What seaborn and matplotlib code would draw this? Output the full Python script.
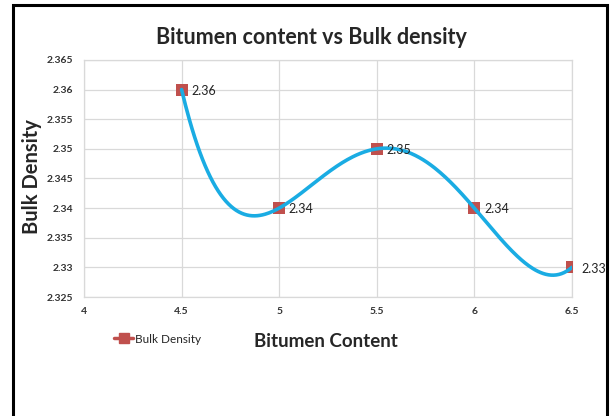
import numpy as np
import pandas as pd
import matplotlib
matplotlib.use('Agg')
import matplotlib.pyplot as plt
from matplotlib.lines import Line2D
from matplotlib.patches import Rectangle
import seaborn as sns

# data
bitumen_content = [4.5, 5.0, 5.5, 6.0, 6.5]
bulk_density = [2.36, 2.34, 2.35, 2.34, 2.33]
point_labels = ['2.36', '2.34', '2.35', '2.34', '2.33']
x_ticks = [4, 4.5, 5, 5.5, 6, 6.5]
y_ticks = [2.325, 2.33, 2.335, 2.34, 2.345, 2.35, 2.355, 2.36, 2.365]

sns.set_style('white')
plt.rcParams['font.family'] = ['Lato', 'DejaVu Sans']

df = pd.DataFrame({'x': bitumen_content, 'y': bulk_density})

# smooth line through the points (like Excel's smoothed line)
coef = np.polyfit(df['x'], df['y'], len(df) - 1)
xs = np.linspace(df['x'].min(), df['x'].max(), 300)
smooth = pd.DataFrame({'x': xs, 'y': np.polyval(coef, xs)})

fig = plt.figure(figsize=(6.11, 4.16), dpi=100)
ax = fig.add_axes([0.1375, 0.286, 0.7985, 0.570])

red = '#C0504D'
blue = '#1AACE3'

sns.scatterplot(data=df, x='x', y='y', marker='s', s=70, color=red,
                edgecolor=red, linewidth=0, ax=ax, zorder=3)
sns.lineplot(data=smooth, x='x', y='y', color=blue, linewidth=2.6,
             ax=ax, zorder=4, sort=False)

for xv, yv, lab in zip(bitumen_content, bulk_density, point_labels):
    ax.annotate(lab, (xv, yv), xytext=(7, -1), textcoords='offset points',
                ha='left', va='center', fontsize=9, color='#222222', zorder=5)

ax.set_xlim(4, 6.5)
ax.set_ylim(2.325, 2.365)
ax.set_xticks(x_ticks)
ax.set_xticklabels(['4', '4.5', '5', '5.5', '6', '6.5'])
ax.set_yticks(y_ticks)
ax.set_yticklabels([f'{v:g}' for v in y_ticks])
ax.tick_params(axis='x', length=0, labelsize=7.5, pad=7)
ax.tick_params(axis='y', length=0, labelsize=7.5, pad=8)
for lab in ax.get_xticklabels() + ax.get_yticklabels():
    lab.set_fontweight('bold')
    lab.set_color('#333333')
ax.grid(True, color='#D9D9D9', linewidth=0.9)
ax.set_axisbelow(True)
for sp in ax.spines.values():
    sp.set_color('#D9D9D9')
    sp.set_linewidth(0.9)
ax.set_xlabel('')
ax.set_ylabel('')

fig.text(0.51, 0.909, 'Bitumen content vs Bulk density', ha='center', va='center',
         fontsize=15.5, fontweight='bold')
fig.text(0.533, 0.18, 'Bitumen Content', ha='center', va='center',
         fontsize=13.5, fontweight='bold')
fig.text(0.053, 0.575, 'Bulk Density', ha='center', va='center',
         fontsize=14.5, fontweight='bold', rotation=90)

handle = Line2D([], [], color=red, linewidth=2.5, marker='s', markersize=7)
fig.legend([handle], ['Bulk Density'], loc='center left',
           bbox_to_anchor=(0.17, 0.185), frameon=False, fontsize=8.5,
           handlelength=1.6, handletextpad=0.1)

fig.add_artist(Rectangle((13 / 611, -0.02), 594 / 611, 1.02 - 5 / 416,
                         transform=fig.transFigure, fill=False,
                         edgecolor='black', linewidth=2.2))

fig.savefig('out.png', dpi=100)
